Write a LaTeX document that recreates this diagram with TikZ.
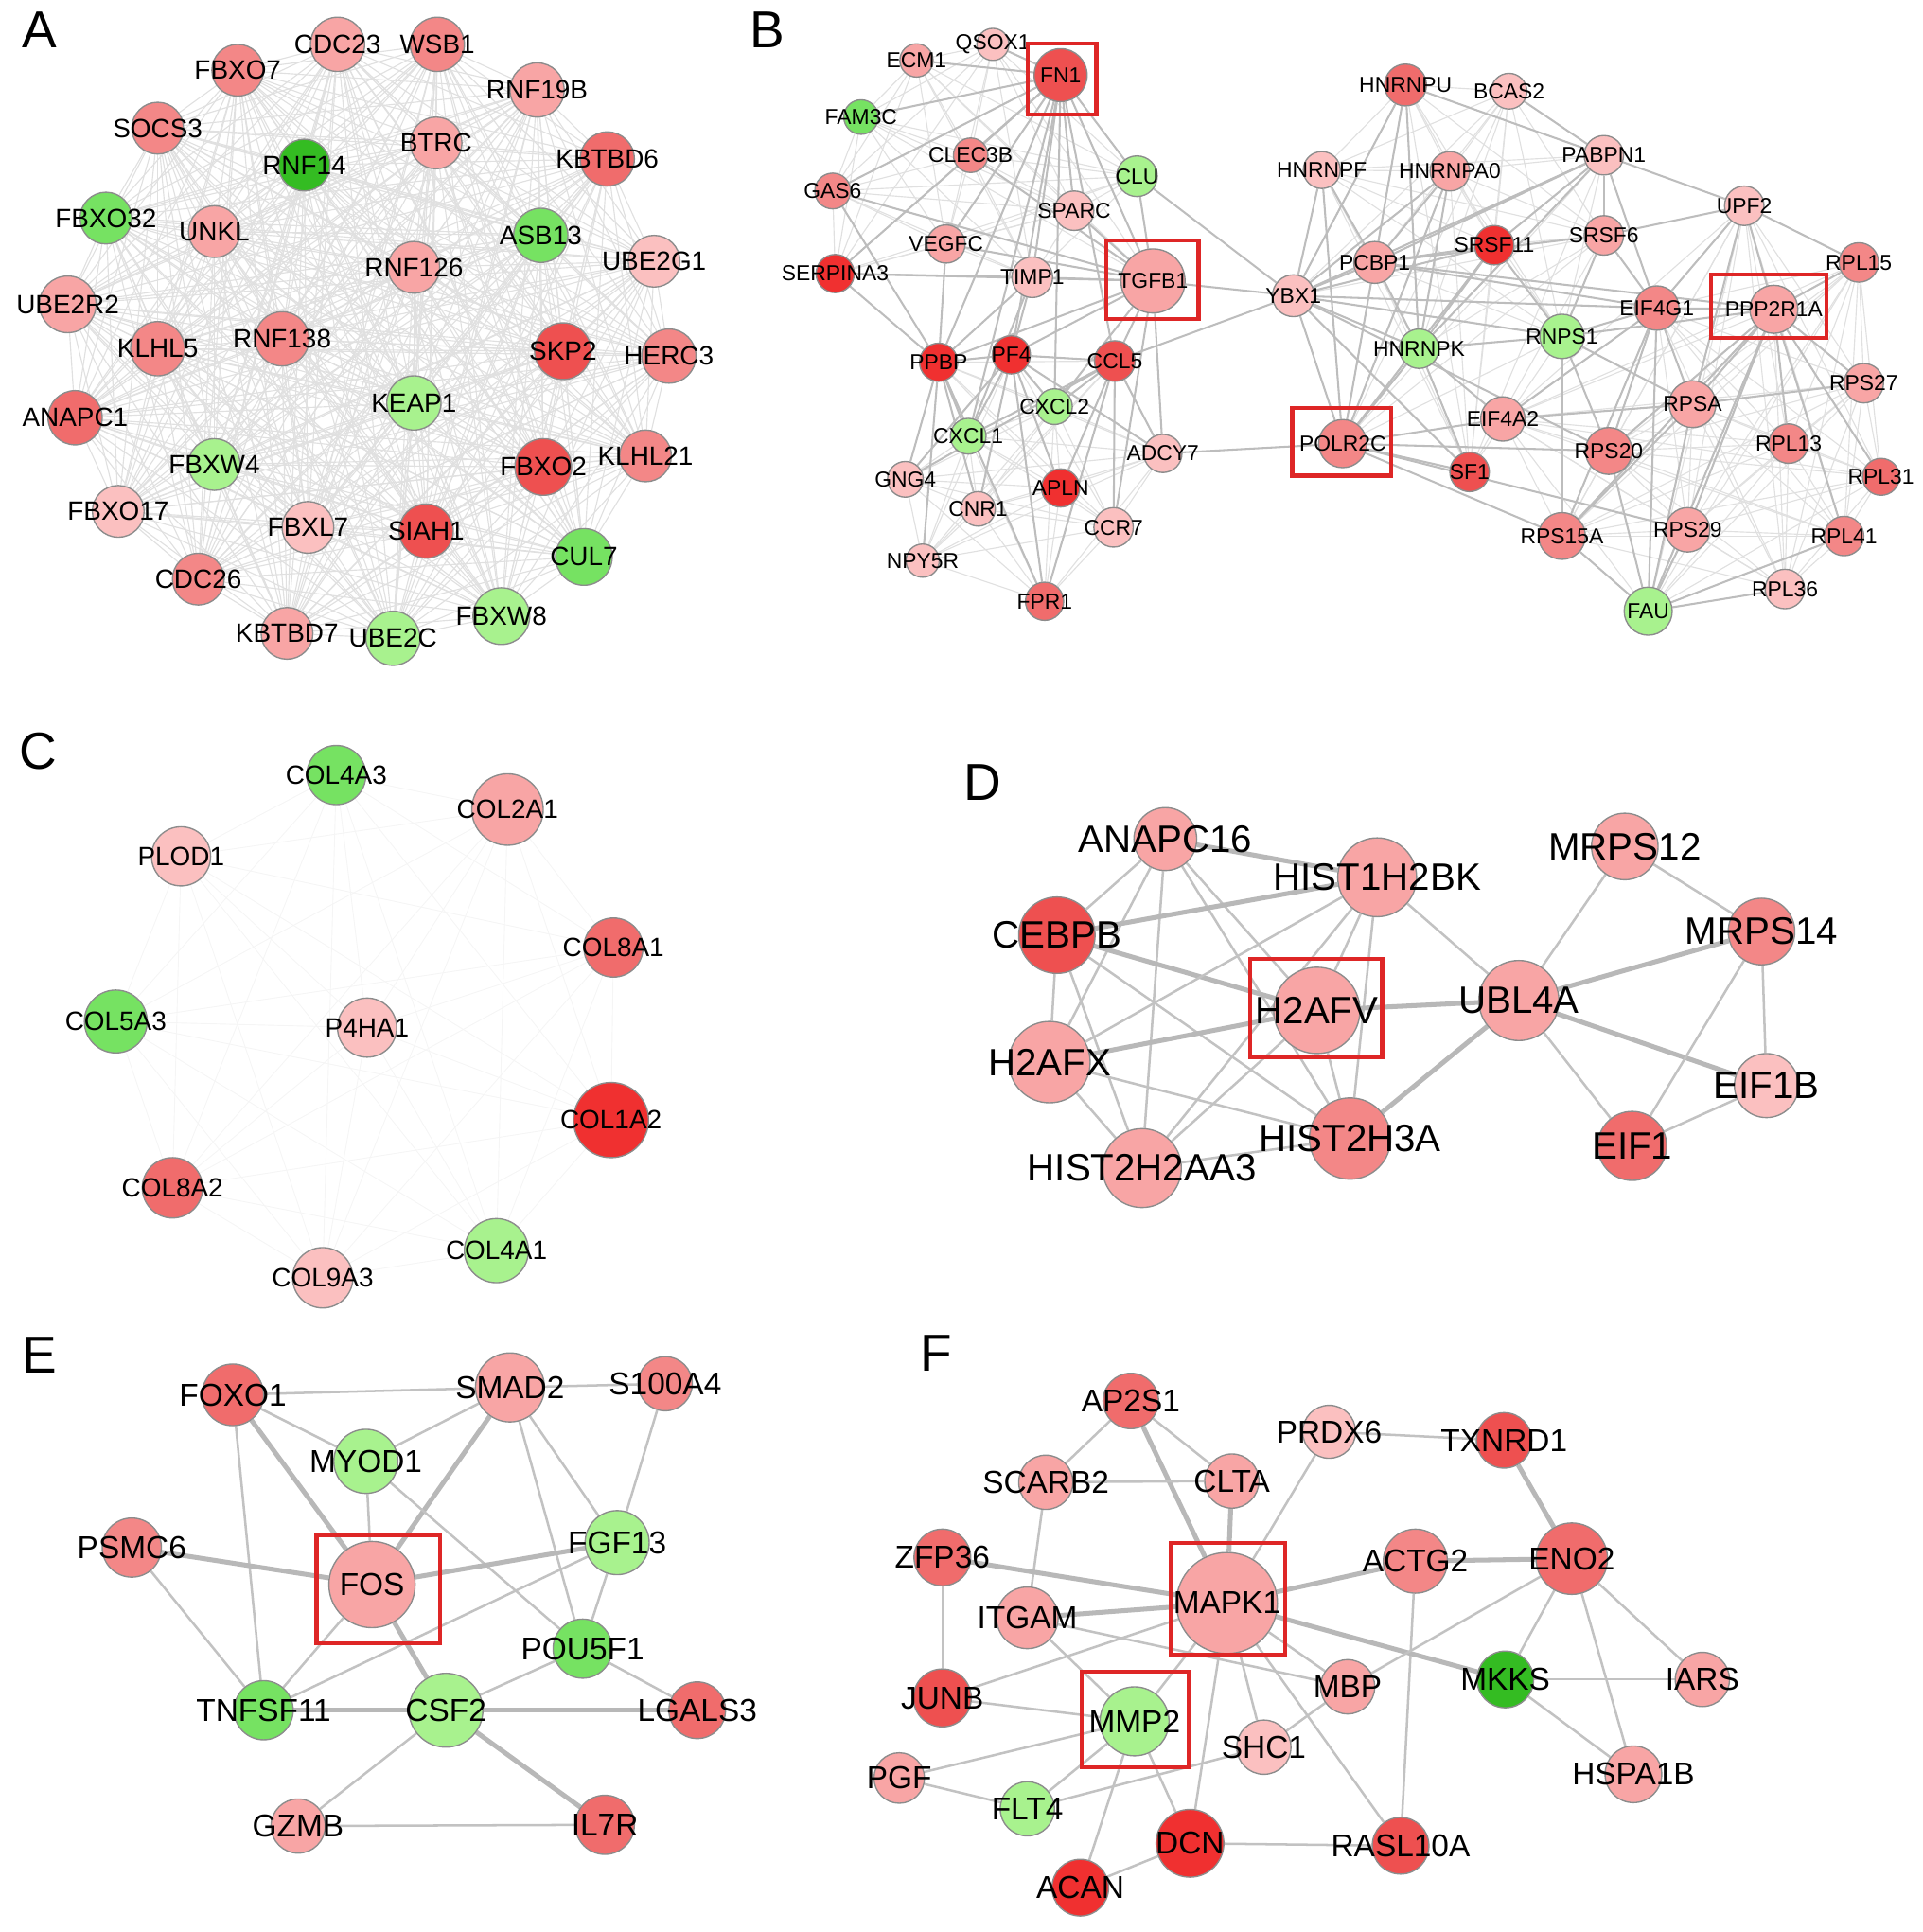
\documentclass[tikz,border=0pt]{standalone}
\usepackage{fontspec}
\setmainfont{Liberation Sans}
\usetikzlibrary{backgrounds}

\definecolor{pk1}{RGB}{251,192,192}
\definecolor{pk2}{RGB}{248,165,165}
\definecolor{pk3}{RGB}{243,135,135}
\definecolor{pk4}{RGB}{240,108,108}
\definecolor{pk5}{RGB}{238,80,80}
\definecolor{pk6}{RGB}{240,48,48}
\definecolor{gn1}{RGB}{168,242,142}
\definecolor{gn2}{RGB}{118,226,98}
\definecolor{gn3}{RGB}{52,188,34}
\definecolor{boxred}{RGB}{222,38,38}

\tikzset{
  gene/.style={circle, draw=black!45, line width=0.3pt, inner sep=0pt, minimum size={2*#1*0.01cm}},
  gene/.default=20,
  la/.style={font=\fontsize{6.1}{7}\selectfont},
  lb/.style={font=\fontsize{5}{6}\selectfont},
  lc/.style={font=\fontsize{6.1}{7}\selectfont},
  ld/.style={font=\fontsize{8.8}{10}\selectfont},
  le/.style={font=\fontsize{7.3}{8}\selectfont},
  lf/.style={font=\fontsize{7.3}{8}\selectfont},
  panel/.style={font=\fontsize{12}{14}\selectfont, inner sep=0pt},
  hitbox/.style={draw=boxred, line width=0.9pt},
  web/.style={black!12, line width=0.25pt},
  faint/.style={black!4, line width=0.2pt},
  lnk/.style={black!26, line width=0.45pt},
  thn/.style={black!24, line width=0.55pt},
  thk/.style={black!28, line width=1.1pt},
}

\newcommand\fullmesh[2]{%
  \foreach \p [count=\i] in #2 {
    \foreach \q [count=\j] in #2 {
      \ifnum\j>\i \draw[#1] (\p) -- (\q); \fi
    }
  }%
}

\def\grpA{cdc23,wsb1,fbxo7,rnf19b,socs3,btrc,rnf14,kbtbd6,fbxo32,unkl,asb13,ube2g1,rnf126,ube2r2,klhl5,rnf138,skp2,herc3,keap1,anapc1,fbxw4,fbxo2,klhl21,fbxo17,fbxl7,siah1,cul7,cdc26,fbxw8,kbtbd7,ube2c}
\def\grpBup{ecm,qsox,fn,fam,clec,clu,gas,sparc,vegfc,serp,timp,tgfb}
\def\grpBlow{ppbp,pf4,ccl5,cxcl2,cxcl1,adcy,gng,apln,cnr,ccr,npy,fpr}
\def\grpBrna{hnrnpu,bcas2,hnrnpf,hnrnpa0,pabpn1,srsf11,srsf6,pcbp1,ybx1,hnrnpk,polr2c,sf1,rnps1}
\def\grpBrib{upf2,rpl15,eif4g1,ppp2r1a,rps27,rpsa,eif4a2,rps20,rpl13,rpl31,rps15a,rps29,rpl41,rpl36,fau}
\def\grpC{col4a3,col2a1,plod1,col8a1,col5a3,p4ha1,col1a2,col8a2,col4a1,col9a3}

\begin{document}
\begin{tikzpicture}[x=0.01cm, y=-0.01cm]
\useasboundingbox (0,0) rectangle (1561,1568);

\node[panel] (pA) at (32,24) {A};
\node[panel] (pB) at (623,24) {B};
\node[panel] (pC) at (31,610) {C};
\node[panel] (pD) at (798,635) {D};
\node[panel] (pE) at (32,1100) {E};
\node[panel] (pF) at (760,1098) {F};

% A
\node[gene=22, fill=pk2, label={[la]center:CDC23}] (cdc23) at (274,36) {};
\node[gene=22, fill=pk3, label={[la]center:WSB1}] (wsb1) at (355,36) {};
\node[gene=21, fill=pk3, label={[la]center:FBXO7}] (fbxo7) at (193,57) {};
\node[gene=22, fill=pk2, label={[la]center:RNF19B}] (rnf19b) at (436,73) {};
\node[gene=21, fill=pk3, label={[la]center:SOCS3}] (socs3) at (128,104) {};
\node[gene=21, fill=pk2, label={[la]center:BTRC}] (btrc) at (354,116) {};
\node[gene=21, fill=gn3, label={[la]center:RNF14}] (rnf14) at (247,134) {};
\node[gene=22, fill=pk4, label={[la]center:KBTBD6}] (kbtbd6) at (493,129) {};
\node[gene=21, fill=gn2, label={[la]center:FBXO32}] (fbxo32) at (86,177) {};
\node[gene=21, fill=pk2, label={[la]center:UNKL}] (unkl) at (174,188) {};
\node[gene=22, fill=gn2, label={[la]center:ASB13}] (asb13) at (439,191) {};
\node[gene=21, fill=pk1, label={[la]center:UBE2G1}] (ube2g1) at (531,212) {};
\node[gene=21, fill=pk2, label={[la]center:RNF126}] (rnf126) at (336,217) {};
\node[gene=23, fill=pk2, label={[la]center:UBE2R2}] (ube2r2) at (55,247) {};
\node[gene=22, fill=pk3, label={[la]center:KLHL5}] (klhl5) at (128,283) {};
\node[gene=22, fill=pk3, label={[la]center:RNF138}] (rnf138) at (229,275) {};
\node[gene=23, fill=pk5, label={[la]center:SKP2}] (skp2) at (457,285) {};
\node[gene=22, fill=pk3, label={[la]center:HERC3}] (herc3) at (543,289) {};
\node[gene=22, fill=gn1, label={[la]center:KEAP1}] (keap1) at (336,327) {};
\node[gene=22, fill=pk4, label={[la]center:ANAPC1}] (anapc1) at (61,339) {};
\node[gene=21, fill=gn1, label={[la]center:FBXW4}] (fbxw4) at (174,377) {};
\node[gene=23, fill=pk5, label={[la]center:FBXO2}] (fbxo2) at (441,379) {};
\node[gene=21, fill=pk3, label={[la]center:KLHL21}] (klhl21) at (524,370) {};
\node[gene=21, fill=pk1, label={[la]center:FBXO17}] (fbxo17) at (96,415) {};
\node[gene=21, fill=pk1, label={[la]center:FBXL7}] (fbxl7) at (250,428) {};
\node[gene=22, fill=pk5, label={[la]center:SIAH1}] (siah1) at (346,431) {};
\node[gene=23, fill=gn2, label={[la]center:CUL7}] (cul7) at (474,452) {};
\node[gene=21, fill=pk3, label={[la]center:CDC26}] (cdc26) at (161,470) {};
\node[gene=23, fill=gn1, label={[la]center:FBXW8}] (fbxw8) at (407,500) {};
\node[gene=21, fill=pk2, label={[la]center:KBTBD7}] (kbtbd7) at (233,514) {};
\node[gene=22, fill=gn1, label={[la]center:UBE2C}] (ube2c) at (319,518) {};

% B
\node[gene=13.5, fill=pk2, label={[lb]center:ECM1}] (ecm) at (744,49) {};
\node[gene=13, fill=pk1, label={[lb]center:QSOX1}] (qsox) at (806,36) {};
\node[gene=21.5, fill=pk5, label={[lb]center:FN1}] (fn) at (861,61) {};
\node[gene=14, fill=gn2, label={[lb]center:FAM3C}] (fam) at (699,95) {};
\node[gene=14, fill=pk3, label={[lb]center:CLEC3B}] (clec) at (788,126) {};
\node[gene=16.5, fill=gn1, label={[lb]center:CLU}] (clu) at (923,143) {};
\node[gene=14.5, fill=pk3, label={[lb]center:GAS6}] (gas) at (676,155) {};
\node[gene=16, fill=pk1, label={[lb]center:SPARC}] (sparc) at (872,171) {};
\node[gene=15.5, fill=pk2, label={[lb]center:VEGFC}] (vegfc) at (768,198) {};
\node[gene=15.5, fill=pk6, label={[lb]center:SERPINA3}] (serp) at (678,222) {};
\node[gene=16.5, fill=pk1, label={[lb]center:TIMP1}] (timp) at (838,225) {};
\node[gene=26, fill=pk2, label={[lb]center:TGFB1}] (tgfb) at (936,228) {};
\node[gene=15.5, fill=pk6, label={[lb]center:PPBP}] (ppbp) at (762,294) {};
\node[gene=15.5, fill=pk6, label={[lb]center:PF4}] (pf4) at (821,288) {};
\node[gene=16.5, fill=pk5, label={[lb]center:CCL5}] (ccl5) at (905,293) {};
\node[gene=14.5, fill=gn1, label={[lb]center:CXCL2}] (cxcl2) at (856,330) {};
\node[gene=14.5, fill=gn1, label={[lb]center:CXCL1}] (cxcl1) at (786,354) {};
\node[gene=15.5, fill=pk1, label={[lb]center:ADCY7}] (adcy) at (944,368) {};
\node[gene=14.5, fill=pk1, label={[lb]center:GNG4}] (gng) at (735,389) {};
\node[gene=15.5, fill=pk6, label={[lb]center:APLN}] (apln) at (861,396) {};
\node[gene=14, fill=pk1, label={[lb]center:CNR1}] (cnr) at (794,413) {};
\node[gene=16, fill=pk1, label={[lb]center:CCR7}] (ccr) at (904,428) {};
\node[gene=13.5, fill=pk1, label={[lb]center:NPY5R}] (npy) at (749,455) {};
\node[gene=15.5, fill=pk4, label={[lb]center:FPR1}] (fpr) at (848,488) {};

\node[gene=17, fill=pk4, label={[lb]center:HNRNPU}] (hnrnpu) at (1141,69) {};
\node[gene=14.5, fill=pk1, label={[lb]center:BCAS2}] (bcas2) at (1225,74) {};
\node[gene=15, fill=pk1, label={[lb]center:HNRNPF}] (hnrnpf) at (1073,138) {};
\node[gene=16, fill=pk2, label={[lb]center:HNRNPA0}] (hnrnpa0) at (1177,139) {};
\node[gene=16, fill=pk1, label={[lb]center:PABPN1}] (pabpn1) at (1302,126) {};
\node[gene=16, fill=pk1, label={[lb]center:UPF2}] (upf2) at (1416,167) {};
\node[gene=16, fill=pk6, label={[lb]center:SRSF11}] (srsf11) at (1213,199) {};
\node[gene=16, fill=pk2, label={[lb]center:SRSF6}] (srsf6) at (1302,191) {};
\node[gene=17, fill=pk2, label={[lb]center:PCBP1}] (pcbp1) at (1116,213) {};
\node[gene=16, fill=pk3, label={[lb]center:RPL15}] (rpl15) at (1509,213) {};
\node[gene=17, fill=pk1, label={[lb]center:YBX1}] (ybx1) at (1050,240) {};
\node[gene=18, fill=pk3, label={[lb]center:EIF4G1}] (eif4g1) at (1345,250) {};
\node[gene=19.5, fill=pk2, label={[lb]center:PPP2R1A}] (ppp2r1a) at (1440,251) {};
\node[gene=16, fill=gn1, label={[lb]center:HNRNPK}] (hnrnpk) at (1152,283) {};
\node[gene=18, fill=gn1, label={[lb]center:RNPS1}] (rnps1) at (1268,273) {};
\node[gene=16, fill=pk2, label={[lb]center:RPS27}] (rps27) at (1513,311) {};
\node[gene=19, fill=pk2, label={[lb]center:RPSA}] (rpsa) at (1374,328) {};
\node[gene=18, fill=pk2, label={[lb]center:EIF4A2}] (eif4a2) at (1220,340) {};
\node[gene=19.5, fill=pk3, label={[lb]center:POLR2C}] (polr2c) at (1090,360) {};
\node[gene=19, fill=pk3, label={[lb]center:RPS20}] (rps20) at (1306,366) {};
\node[gene=16, fill=pk3, label={[lb]center:RPL13}] (rpl13) at (1452,360) {};
\node[gene=16, fill=pk5, label={[lb]center:SF1}] (sf1) at (1193,383) {};
\node[gene=15, fill=pk4, label={[lb]center:RPL31}] (rpl31) at (1527,387) {};
\node[gene=19, fill=pk3, label={[lb]center:RPS15A}] (rps15a) at (1268,435) {};
\node[gene=18, fill=pk2, label={[lb]center:RPS29}] (rps29) at (1370,430) {};
\node[gene=16, fill=pk3, label={[lb]center:RPL41}] (rpl41) at (1497,435) {};
\node[gene=16, fill=pk1, label={[lb]center:RPL36}] (rpl36) at (1449,478) {};
\node[gene=19.5, fill=gn1, label={[lb]center:FAU}] (fau) at (1338,496) {};

% C
\node[gene=24, fill=gn2, label={[lc]center:COL4A3}] (col4a3) at (273,629) {};
\node[gene=29, fill=pk2, label={[lc]center:COL2A1}] (col2a1) at (412,657) {};
\node[gene=24, fill=pk1, label={[lc]center:PLOD1}] (plod1) at (147,695) {};
\node[gene=24, fill=pk4, label={[lc]center:COL8A1}] (col8a1) at (498,769) {};
\node[gene=25.5, fill=gn2, label={[lc]center:COL5A3}] (col5a3) at (94,829) {};
\node[gene=24, fill=pk1, label={[lc]center:P4HA1}] (p4ha1) at (298,834) {};
\node[gene=30.5, fill=pk6, label={[lc]center:COL1A2}] (col1a2) at (496,909) {};
\node[gene=24.5, fill=pk4, label={[lc]center:COL8A2}] (col8a2) at (140,964) {};
\node[gene=26, fill=gn1, label={[lc]center:COL4A1}] (col4a1) at (403,1015) {};
\node[gene=24.5, fill=pk1, label={[lc]center:COL9A3}] (col9a3) at (262,1037) {};

% D
\node[gene=25.5, fill=pk2, label={[ld]center:ANAPC16}] (anapc16) at (946,681) {};
\node[gene=32, fill=pk2, label={[ld]center:HIST1H2BK}] (hist1h2bk) at (1118,712) {};
\node[gene=27, fill=pk2, label={[ld]center:MRPS12}] (mrps12) at (1319,687) {};
\node[gene=31, fill=pk5, label={[ld]center:CEBPB}] (cebpb) at (858,759) {};
\node[gene=27, fill=pk3, label={[ld]center:MRPS14}] (mrps14) at (1430,756) {};
\node[gene=35, fill=pk2, label={[ld]center:H2AFV}] (h2afv) at (1069,820) {};
\node[gene=32.5, fill=pk2, label={[ld]center:UBL4A}] (ubl4a) at (1233,812) {};
\node[gene=33, fill=pk2, label={[ld]center:H2AFX}] (h2afx) at (852,862) {};
\node[gene=26, fill=pk1, label={[ld]center:EIF1B}] (eif1b) at (1434,881) {};
\node[gene=33, fill=pk3, label={[ld]center:HIST2H3A}] (hist2h3a) at (1096,924) {};
\node[gene=28, fill=pk4, label={[ld]center:EIF1}] (eif1) at (1325,930) {};
\node[gene=32, fill=pk2, label={[ld]center:HIST2H2AA3}] (hist2h2aa3) at (927,948) {};

% E
\node[gene=25, fill=pk4, label={[le]center:FOXO1}] (foxo1) at (189,1132) {};
\node[gene=28, fill=pk2, label={[le]center:SMAD2}] (smad2) at (414,1126) {};
\node[gene=22, fill=pk3, label={[le]center:S100A4}] (s100a4) at (540,1123) {};
\node[gene=26, fill=gn1, label={[le]center:MYOD1}] (myod1) at (297,1186) {};
\node[gene=24, fill=pk3, label={[le]center:PSMC6}] (psmc6) at (107,1256) {};
\node[gene=26, fill=gn1, label={[le]center:FGF13}] (fgf13) at (501,1252) {};
\node[gene=35, fill=pk2, label={[le]center:FOS}] (fos) at (302,1286) {};
\node[gene=24, fill=gn2, label={[le]center:POU5F1}] (pou5f1) at (473,1338) {};
\node[gene=24, fill=gn2, label={[le]center:TNFSF11}] (tnfsf11) at (214,1388) {};
\node[gene=30, fill=gn1, label={[le]center:CSF2}] (csf2) at (362,1388) {};
\node[gene=23, fill=pk4, label={[le]center:LGALS3}] (lgals3) at (566,1388) {};
\node[gene=22, fill=pk2, label={[le]center:GZMB}] (gzmb) at (242,1482) {};
\node[gene=24, fill=pk4, label={[le]center:IL7R}] (il7r) at (491,1481) {};

% F
\node[gene=22.5, fill=pk4, label={[lf]center:AP2S1}] (ap2s1) at (918,1137) {};
\node[gene=21.5, fill=pk1, label={[lf]center:PRDX6}] (prdx6) at (1079,1162) {};
\node[gene=22.5, fill=pk5, label={[lf]center:TXNRD1}] (txnrd1) at (1221,1169) {};
\node[gene=22, fill=pk2, label={[lf]center:SCARB2}] (scarb2) at (849,1203) {};
\node[gene=22, fill=pk2, label={[lf]center:CLTA}] (clta) at (1000,1202) {};
\node[gene=23, fill=pk4, label={[lf]center:ZFP36}] (zfp36) at (765,1264) {};
\node[gene=26, fill=pk3, label={[lf]center:ACTG2}] (actg2) at (1149,1267) {};
\node[gene=29, fill=pk4, label={[lf]center:ENO2}] (eno2) at (1276,1265) {};
\node[gene=41, fill=pk2, label={[lf]center:MAPK1}] (mapk1) at (996,1301) {};
\node[gene=25, fill=pk2, label={[lf]center:ITGAM}] (itgam) at (834,1313) {};
\node[gene=23, fill=gn3, label={[lf]center:MKKS}] (mkks) at (1222,1363) {};
\node[gene=22, fill=pk2, label={[lf]center:IARS}] (iars) at (1382,1363) {};
\node[gene=23.5, fill=pk5, label={[lf]center:JUNB}] (junb) at (765,1378) {};
\node[gene=22, fill=pk2, label={[lf]center:MBP}] (mbp) at (1094,1369) {};
\node[gene=28, fill=gn1, label={[lf]center:MMP2}] (mmp2) at (921,1397) {};
\node[gene=22, fill=pk1, label={[lf]center:SHC1}] (shc1) at (1026,1418) {};
\node[gene=23, fill=pk2, label={[lf]center:HSPA1B}] (hspa1b) at (1326,1440) {};
\node[gene=20.5, fill=pk2, label={[lf]center:PGF}] (pgf) at (730,1443) {};
\node[gene=22, fill=gn1, label={[lf]center:FLT4}] (flt4) at (834,1468) {};
\node[gene=27.5, fill=pk6, label={[lf]center:DCN}] (dcn) at (966,1496) {};
\node[gene=23, fill=pk5, label={[lf]center:RASL10A}] (rasl10a) at (1137,1498) {};
\node[gene=23, fill=pk6, label={[lf]center:ACAN}] (acan) at (877,1532) {};

\draw[hitbox] (fn) ++(-27,-26) rectangle ++(56,58);
\draw[hitbox] (tgfb) ++(-38,-33) rectangle ++(75,64);
\draw[hitbox] (ppp2r1a) ++(-51,-28) rectangle ++(94,51);
\draw[hitbox] (polr2c) ++(-41,-29) rectangle ++(80,55);
\draw[hitbox] (h2afv) ++(-54,-42) rectangle ++(107,80);
\draw[hitbox] (fos) ++(-45,-40) rectangle ++(100,88);
\draw[hitbox] (mapk1) ++(-46,-49) rectangle ++(93,91);
\draw[hitbox] (mmp2) ++(-43,-40) rectangle ++(87,77);

\begin{scope}[on background layer]
\fullmesh{web}{\grpA}
\fullmesh{web}{\grpBup}
\fullmesh{web}{\grpBlow}
\fullmesh{web}{\grpBrna}
\fullmesh{web}{\grpBrib}
\fullmesh{faint}{\grpC}

\foreach \q in {timp,tgfb,sparc,clu,clec,vegfc,gas,serp,ecm,qsox,fam,ppbp,pf4,ccl5,cxcl1,cxcl2} \draw[lnk] (fn) -- (\q);
\foreach \q in {timp,sparc,clu,serp,vegfc,clec,gas,ppbp,pf4,ccl5,cxcl2,adcy,ccr} \draw[lnk] (tgfb) -- (\q);
\foreach \q in {serp,ppbp,pf4,cxcl1} \draw[lnk] (timp) -- (\q);
\foreach \q in {ppbp,ccl5,cxcl1,cxcl2,gng,cnr,apln,fpr,adcy} \draw[lnk] (pf4) -- (\q);
\foreach \q in {gng,npy,cxcl1,cnr,fpr,serp,gas,vegfc} \draw[lnk] (ppbp) -- (\q);
\foreach \q in {cxcl2,adcy,ccr,apln,gng,fpr,cxcl1} \draw[lnk] (ccl5) -- (\q);
\foreach \q in {tgfb,clu,ccl5} \draw[lnk] (ybx1) -- (\q);
\draw[lnk] (adcy) -- (polr2c);

\foreach \q in {hnrnpu,hnrnpf,hnrnpa0,pcbp1,srsf11,pabpn1,polr2c,hnrnpk,sf1,eif4g1,rnps1,rps20} \draw[lnk] (ybx1) -- (\q);
\foreach \q in {hnrnpu,hnrnpf,hnrnpa0,srsf11,srsf6,pabpn1,polr2c,hnrnpk,eif4g1,ppp2r1a} \draw[lnk] (pcbp1) -- (\q);
\foreach \q in {hnrnpk,hnrnpf,hnrnpa0,srsf11,sf1,rps15a,rps20,rps29,eif4a2} \draw[lnk] (polr2c) -- (\q);
\foreach \q in {hnrnpu,hnrnpa0,srsf11,pabpn1,rnps1,eif4a2,sf1} \draw[lnk] (hnrnpk) -- (\q);
\foreach \q in {eif4g1,rps20,rps15a,rpsa,srsf11,srsf6,ppp2r1a} \draw[lnk] (rnps1) -- (\q);
\foreach \q in {eif4g1,upf2,rpl15,rps27,rpl13,rpsa,rps20,rps29,rpl31,rpl41,fau,rps15a} \draw[lnk] (ppp2r1a) -- (\q);
\foreach \q in {pabpn1,srsf6,upf2,eif4a2,rpsa,rps20,rps15a,fau} \draw[lnk] (eif4g1) -- (\q);
\foreach \q in {upf2,hnrnpu,bcas2,srsf6,srsf11} \draw[lnk] (pabpn1) -- (\q);
\foreach \q in {rpl15,srsf6,rpsa} \draw[lnk] (upf2) -- (\q);
\foreach \q in {eif4a2,rps27,rps15a,fau} \draw[lnk] (rpsa) -- (\q);
\foreach \q in {rps15a,rps29,rpl36,rpl41,rps20} \draw[lnk] (fau) -- (\q);

\draw[thk] (anapc16) -- (hist1h2bk);
\draw[thn] (anapc16) -- (cebpb);
\draw[thn] (anapc16) -- (h2afx);
\draw[thn] (anapc16) -- (hist2h2aa3);
\draw[thn] (anapc16) -- (h2afv);
\draw[thn] (anapc16) -- (hist2h3a);
\draw[thk] (cebpb) -- (hist1h2bk);
\draw[thk] (cebpb) -- (h2afv);
\draw[thn] (cebpb) -- (h2afx);
\draw[thn] (cebpb) -- (hist2h3a);
\draw[thn] (cebpb) -- (hist2h2aa3);
\draw[thn] (h2afx) -- (hist1h2bk);
\draw[thk] (h2afx) -- (h2afv);
\draw[thn] (h2afx) -- (hist2h3a);
\draw[thn] (h2afx) -- (hist2h2aa3);
\draw[thn] (hist1h2bk) -- (h2afv);
\draw[thn] (hist1h2bk) -- (hist2h3a);
\draw[thn] (hist1h2bk) -- (hist2h2aa3);
\draw[thn] (hist1h2bk) -- (ubl4a);
\draw[thk] (h2afv) -- (ubl4a);
\draw[thn] (h2afv) -- (hist2h3a);
\draw[thn] (h2afv) -- (hist2h2aa3);
\draw[thn] (hist2h3a) -- (hist2h2aa3);
\draw[thk] (hist2h3a) -- (ubl4a);
\draw[thn] (ubl4a) -- (mrps12);
\draw[thk] (ubl4a) -- (mrps14);
\draw[thk] (ubl4a) -- (eif1b);
\draw[thn] (ubl4a) -- (eif1);
\draw[thn] (mrps12) -- (mrps14);
\draw[thn] (mrps14) -- (eif1b);
\draw[thn] (mrps14) -- (eif1);
\draw[thn] (eif1) -- (eif1b);

\draw[thn] (foxo1) -- (smad2);
\draw[thn] (smad2) -- (s100a4);
\draw[thn] (foxo1) -- (myod1);
\draw[thk] (foxo1) -- (fos);
\draw[thn] (foxo1) -- (tnfsf11);
\draw[thn] (smad2) -- (myod1);
\draw[thk] (smad2) -- (fos);
\draw[thn] (smad2) -- (fgf13);
\draw[thn] (smad2) -- (pou5f1);
\draw[thn] (s100a4) -- (fgf13);
\draw[thn] (myod1) -- (fos);
\draw[thn] (myod1) -- (pou5f1);
\draw[thk] (psmc6) -- (fos);
\draw[thn] (psmc6) -- (tnfsf11);
\draw[thk] (fos) -- (fgf13);
\draw[thn] (fos) -- (tnfsf11);
\draw[thk] (fos) -- (csf2);
\draw[thn] (fgf13) -- (tnfsf11);
\draw[thn] (fgf13) -- (pou5f1);
\draw[thn] (pou5f1) -- (csf2);
\draw[thn] (pou5f1) -- (lgals3);
\draw[thk] (tnfsf11) -- (csf2);
\draw[thk] (csf2) -- (lgals3);
\draw[thn] (csf2) -- (gzmb);
\draw[thk] (csf2) -- (il7r);
\draw[thn] (gzmb) -- (il7r);

\draw[thn] (ap2s1) -- (scarb2);
\draw[thn] (ap2s1) -- (clta);
\draw[thk] (ap2s1) -- (mapk1);
\draw[thn] (scarb2) -- (clta);
\draw[thn] (scarb2) -- (itgam);
\draw[thk] (clta) -- (mapk1);
\draw[thn] (prdx6) -- (txnrd1);
\draw[thn] (prdx6) -- (mapk1);
\draw[thk] (txnrd1) -- (eno2);
\draw[thk] (zfp36) -- (mapk1);
\draw[thn] (zfp36) -- (junb);
\draw[thk] (itgam) -- (mapk1);
\draw[thn] (itgam) -- (mbp);
\draw[thn] (itgam) -- (mmp2);
\draw[thk] (mapk1) -- (actg2);
\draw[thk] (actg2) -- (eno2);
\draw[thn] (actg2) -- (rasl10a);
\draw[thk] (mapk1) -- (mkks);
\draw[thn] (mapk1) -- (junb);
\draw[thn] (mapk1) -- (mmp2);
\draw[thn] (mapk1) -- (mbp);
\draw[thn] (mapk1) -- (shc1);
\draw[thn] (mapk1) -- (dcn);
\draw[thn] (mapk1) -- (rasl10a);
\draw[thn] (eno2) -- (mbp);
\draw[thn] (eno2) -- (mkks);
\draw[thn] (eno2) -- (iars);
\draw[thn] (eno2) -- (hspa1b);
\draw[thn] (mkks) -- (iars);
\draw[thn] (mkks) -- (hspa1b);
\draw[thn] (junb) -- (mmp2);
\draw[thn] (mmp2) -- (pgf);
\draw[thn] (mmp2) -- (flt4);
\draw[thn] (mmp2) -- (dcn);
\draw[thn] (mmp2) -- (acan);
\draw[thn] (pgf) -- (flt4);
\draw[thn] (flt4) -- (shc1);
\draw[thn] (shc1) -- (mbp);
\draw[thn] (dcn) -- (rasl10a);
\draw[thn] (dcn) -- (acan);
\end{scope}
\end{tikzpicture}
\end{document}
